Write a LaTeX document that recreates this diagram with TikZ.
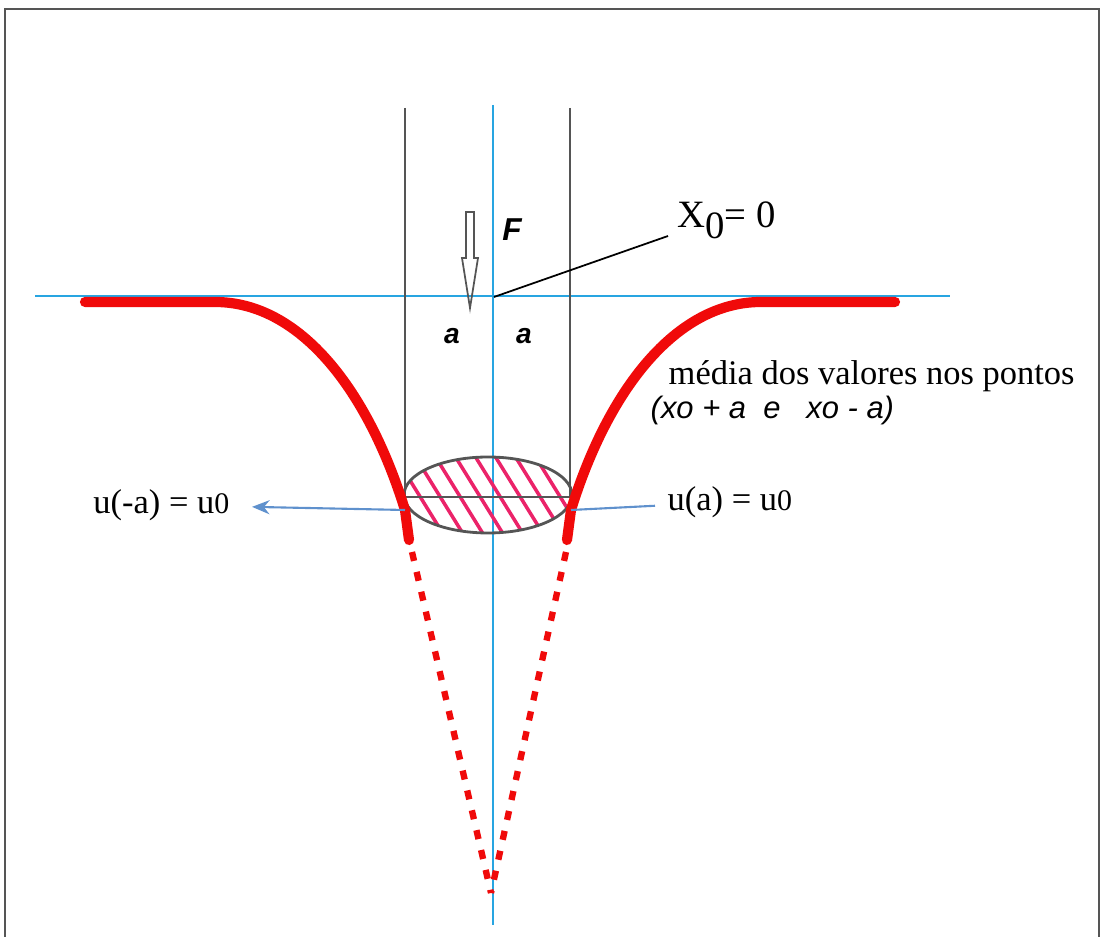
\documentclass[tikz,border=0pt]{standalone}
\usepackage{fontspec}
\setmainfont{Liberation Serif}
\newfontfamily\arialfont{Liberation Sans}
\usetikzlibrary{arrows.meta,positioning}
\definecolor{axisblue}{RGB}{40,165,225}
\definecolor{leadblue}{RGB}{95,145,205}
\definecolor{curvered}{RGB}{240,10,10}
\definecolor{hatchred}{RGB}{235,35,105}
\definecolor{wallgray}{RGB}{85,85,85}
\tikzset{
  axis/.style={axisblue,line width=0.7pt},
  wall/.style={wallgray,line width=0.8pt},
  profile/.style={curvered,line width=2.9pt,line cap=round},
  extrap/.style={curvered,line width=1.8pt,dash pattern=on 2.6pt off 3.2pt},
  hatchline/.style={hatchred,line width=1pt},
  lbl/.style={inner sep=0pt,font=\fontsize{9.8}{12}\selectfont},
  sanslbl/.style={inner sep=0pt,font=\arialfont\itshape\bfseries\fontsize{8}{9}\selectfont},
}

\begin{document}
\begin{tikzpicture}[x=0.01cm,y=-0.01cm]
\useasboundingbox (0,0) rectangle (1102,937);
% Frame
\draw[wall] (5,945) -- (5,9) -- (1099,9) -- (1099,945);
% Key points
\coordinate (orig) at (494,297);
\coordinate (pl) at (405,510);
\coordinate (pr) at (571,510);
\coordinate (tip) at (491,893);
\coordinate (lead) at (668,236);
% Axes
\draw[axis] (35,296) -- (950,296);
\draw[axis] (493,105) -- (493,925);
% Walls
\draw[wall] (405,108) -- (405,497);
\draw[wall] (570,108) -- (570,497);
% Hatched contact zone
\begin{scope}
\clip (488,495) ellipse [x radius=84, y radius=38];
\foreach \i in {-1,...,9}
  \draw[hatchline] ({365+20*\i},440) -- ++(65,105);
\end{scope}
\draw[wall] (488,495) ellipse [x radius=84, y radius=38];
\draw[wall] (404,497) -- (572,497);
% Red profile
\draw[profile] (85,302) -- (215,302) .. controls (300,302) and (368,390) .. (pl) -- (409,540);
\draw[profile] (895,302) -- (761,302) .. controls (676,302) and (608,390) .. (pr) -- (567,540);
% Extrapolation
\draw[extrap] (412,552) -- (tip);
\draw[extrap] (566,552) -- (tip);
% Force
\draw[wallgray,line width=0.5pt] (466,212) -- (474,212) -- (474,258) -- (478,258)
  -- (470,308) -- (462,258) -- (466,258) -- cycle;
\node[sanslbl,font=\arialfont\itshape\bfseries\fontsize{9}{10}\selectfont] (F) at (512,230) {F};
% Labels
\node[sanslbl] (al) at (452,336) {a};
\node[sanslbl] (ar) at (524,336) {a};
\node[lbl,anchor=base west,font=\fontsize{11}{13}\selectfont] (x0) at (677,228) {X\raisebox{-0.6ex}{0}= 0};
\draw[black,line width=0.5pt] (orig) -- (lead);
\node[lbl,anchor=west] (media) at (668,376) {média dos valores nos pontos};
\node[sanslbl,anchor=west,font=\arialfont\itshape\fontsize{8.8}{10}\selectfont] (pts) at (650,410) {(xo + a~~e~~~xo - a)};
\node[lbl,anchor=east] (ul) at (230,505) {u(-a) = u{\fontsize{8.5}{10}\selectfont 0}};
\node[lbl,anchor=west] (ur) at (667,502) {u(a) = u{\fontsize{8.5}{10}\selectfont 0}};
\draw[leadblue,line width=0.6pt,-{Stealth[length=5pt,width=4pt]},shorten >=0.22cm] (pl) -- (ul);
\draw[leadblue,line width=0.6pt,shorten >=0.12cm] (pr) -- (ur);
\end{tikzpicture}
\end{document}
